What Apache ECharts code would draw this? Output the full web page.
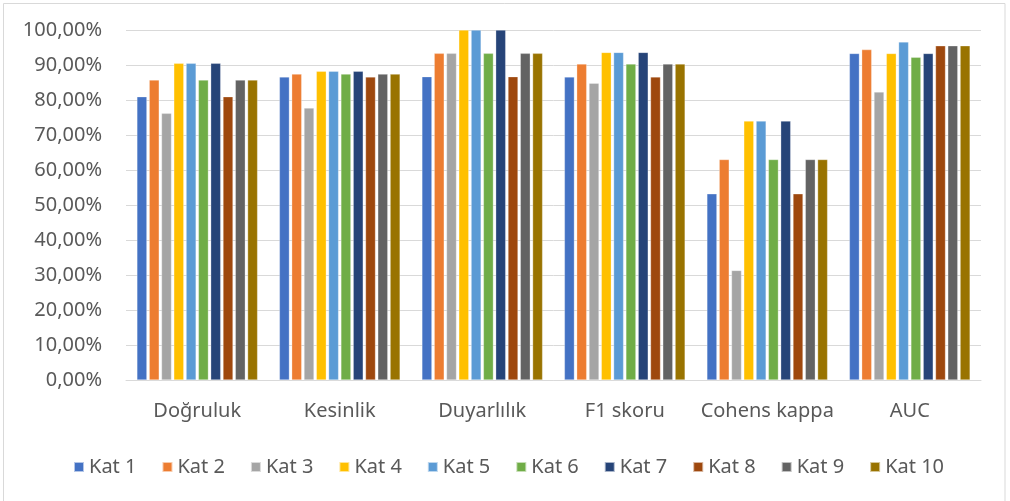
<!DOCTYPE html>
<html>
<head>
<meta charset="utf-8">
<script src="https://cdn.jsdelivr.net/npm/echarts@6/dist/echarts.min.js"></script>
<style>
html,body{margin:0;padding:0;background:#fff;}
#chart{width:1010px;height:501px;}
</style>
</head>
<body>
<div id="chart"></div>
<script>
const categories = ['Doğruluk', 'Kesinlik', 'Duyarlılık', 'F1 skoru', 'Cohens kappa', 'AUC'];
const seriesNames = ['Kat 1','Kat 2','Kat 3','Kat 4','Kat 5','Kat 6','Kat 7','Kat 8','Kat 9','Kat 10'];
const kat1  = [80.95, 86.6, 86.67, 86.6, 53.2, 93.3];
const kat2  = [85.71, 87.4, 93.33, 90.3, 63.0, 94.4];
const kat3  = [76.19, 77.7, 93.33, 84.8, 31.3, 82.3];
const kat4  = [90.48, 88.2, 100.0, 93.6, 74.0, 93.3];
const kat5  = [90.48, 88.2, 100.0, 93.6, 74.0, 96.6];
const kat6  = [85.71, 87.4, 93.33, 90.3, 63.0, 92.2];
const kat7  = [90.48, 88.2, 100.0, 93.6, 74.0, 93.3];
const kat8  = [80.95, 86.6, 86.67, 86.6, 53.2, 95.5];
const kat9  = [85.71, 87.4, 93.33, 90.3, 63.0, 95.5];
const kat10 = [85.71, 87.4, 93.33, 90.3, 63.0, 95.5];
const seriesValues = [kat1,kat2,kat3,kat4,kat5,kat6,kat7,kat8,kat9,kat10];
const colors = ['#4472C4','#ED7D31','#A5A5A5','#FFC000','#5B9BD5','#70AD47','#264478','#9E480E','#636363','#997300'];

const FONT = 'Noto Sans';
const chart = echarts.init(document.getElementById('chart'), null, {renderer:'canvas'});
chart.setOption({
  animation: false,
  color: colors,
  textStyle: {fontFamily: FONT},
  grid: {left: 126, right: 29, top: 30, bottom: 121},
  legend: {
    data: seriesNames,
    bottom: 24,
    left: 73,
    padding: 0,
    icon: 'rect',
    itemWidth: 10,
    itemHeight: 10,
    itemGap: 25,
    textStyle: {fontFamily: FONT, fontSize: 20, color: '#595959'}
  },
  xAxis: {
    type: 'category',
    data: categories,
    axisLine: {lineStyle: {color: '#d9d9d9', width: 1}},
    axisTick: {show: false},
    axisLabel: {interval: 0, fontFamily: FONT, fontSize: 20, color: '#595959', margin: 21}
  },
  yAxis: {
    type: 'value',
    min: 0, max: 100, interval: 10,
    axisLine: {show: false},
    axisTick: {show: false},
    splitLine: {lineStyle: {color: '#d9d9d9', width: 1}},
    axisLabel: {fontFamily: FONT, fontSize: 20, color: '#595959', margin: 24,
      formatter: v => v.toFixed(2).replace('.', ',') + '%'}
  },
  graphic: [{
    type: 'rect', shape: {x: 3.5, y: 3.5, width: 1001.5, height: 520},
    style: {fill: 'none', stroke: '#d9d9d9', lineWidth: 1}, silent: true
  }],
  series: seriesNames.map((n, i) => ({
    name: n,
    type: 'bar',
    data: seriesValues[i],
    barWidth: 10,
    barGap: '23%',
    itemStyle: {color: colors[i], borderColor: 'rgba(255,255,255,0.6)', borderWidth: 0.5}
  }))
});
</script>
</body>
</html>
